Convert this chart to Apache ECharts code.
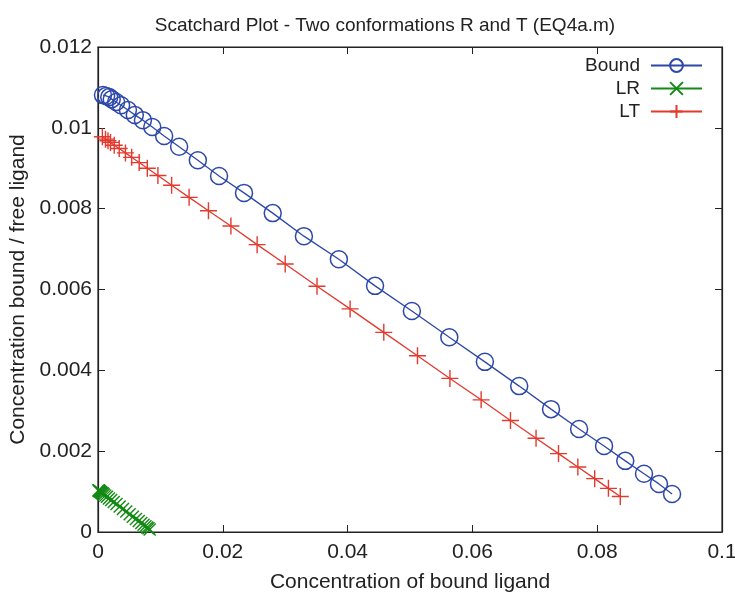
<!DOCTYPE html>
<html>
<head>
<meta charset="UTF-8">
<title>Scatchard Plot</title>
<style type="text/css">
    html,body{padding:0; margin:0; background:#fff;}
    #main{width:735px; height:593px;}
</style>
<script src="https://cdn.jsdelivr.net/npm/echarts@6/dist/echarts.min.js"></script>
</head>
<body>
<div id="main"></div>
<script type="text/javascript">
    // values
    var boundX = [0.0008, 0.0013, 0.0018, 0.0022, 0.0029, 0.0037, 0.0048, 0.0059, 0.0072, 0.0087,
                  0.0106, 0.0130, 0.0160, 0.0194, 0.0234, 0.0280, 0.0330, 0.0386, 0.0444, 0.0503,
                  0.0563, 0.0620, 0.0675, 0.0726, 0.0771, 0.0811, 0.0845, 0.0875, 0.0899, 0.0920];
    var boundY = [0.01081, 0.01079, 0.01076, 0.01071, 0.01064, 0.01056, 0.01044, 0.01032, 0.01019, 0.01002,
                  0.00980, 0.00953, 0.00920, 0.00881, 0.00839, 0.00789, 0.00732, 0.00675, 0.00609, 0.00547,
                  0.00482, 0.00421, 0.00361, 0.00304, 0.00255, 0.00213, 0.00176, 0.00144, 0.00119, 0.00094];

    var lrX = [0.00007, 0.00012, 0.00016, 0.00020, 0.00026, 0.00033, 0.00043, 0.00053, 0.00065, 0.00078,
               0.00095, 0.00117, 0.00144, 0.00175, 0.00211, 0.00252, 0.00297, 0.00347, 0.00400, 0.00453,
               0.00507, 0.00558, 0.00608, 0.00653, 0.00694, 0.00730, 0.00761, 0.00788, 0.00809, 0.00828];
    var lrY = [0.00103, 0.00103, 0.00102, 0.00102, 0.00101, 0.00100, 0.00099, 0.00098, 0.00096, 0.00095,
               0.00093, 0.00090, 0.00087, 0.00083, 0.00079, 0.00074, 0.00069, 0.00063, 0.00057, 0.00051,
               0.00044, 0.00038, 0.00032, 0.00027, 0.00022, 0.00018, 0.00014, 0.00011, 0.00009, 0.00006];

    var ltX = [0.0007, 0.0012, 0.0016, 0.0020, 0.0026, 0.0034, 0.0044, 0.0054, 0.0066, 0.0079,
               0.0096, 0.0118, 0.0146, 0.0177, 0.0213, 0.0255, 0.0300, 0.0351, 0.0404, 0.0458,
               0.0512, 0.0564, 0.0614, 0.0661, 0.0702, 0.0738, 0.0769, 0.0796, 0.0818, 0.0837];
    var ltY = [0.00978, 0.00972, 0.00968, 0.00964, 0.00957, 0.00949, 0.00938, 0.00927, 0.00914, 0.00900,
               0.00882, 0.00858, 0.00828, 0.00795, 0.00757, 0.00711, 0.00663, 0.00608, 0.00552, 0.00494,
               0.00436, 0.00380, 0.00327, 0.00276, 0.00232, 0.00194, 0.00161, 0.00132, 0.00108, 0.00088];

    var xTicks = ['0', '0.02', '0.04', '0.06', '0.08', '0.1'];
    var yTicks = ['0', '0.002', '0.004', '0.006', '0.008', '0.01', '0.012'];

    function pairs(xs, ys) {
        var out = [];
        for (var i = 0; i < xs.length; i++) out.push([xs[i], ys[i]]);
        return out;
    }

    var font = 'Liberation Sans, Arial, sans-serif';
    var blue = '#2d48a8', green = '#138a13', red = '#e23a2e';
    var tick = {show: true, inside: true, length: 7, lineStyle: {color: '#222', width: 1}};
    var frameLine = {show: true, onZero: false, lineStyle: {color: '#222', width: 1.2}};

    var myChart = echarts.init(document.getElementById('main'));
    var option = {
        animation: false,
        backgroundColor: '#fff',
        title: {
            text: 'Scatchard Plot - Two conformations R and T (EQ4a.m)',
            left: 380, top: 11, textAlign: 'center',
            textStyle: {fontFamily: font, fontSize: 19, fontWeight: 'normal', color: '#222'}
        },
        legend: {
            right: 27, top: 51, orient: 'vertical', align: 'right',
            itemWidth: 51, itemHeight: 16, itemGap: 4,
            textStyle: {fontFamily: font, fontSize: 19, lineHeight: 16, color: '#222', padding: [0, 6, 0, 0]},
            data: ['Bound', 'LR', 'LT']
        },
        grid: {
            left: 98, right: 13, top: 47, bottom: 61,
            outerBoundsMode: 'none', containLabel: false,
            show: true, borderColor: '#222', borderWidth: 1.2
        },
        xAxis: [{
            type: 'value', min: 0, max: 0.1, interval: 0.02,
            name: 'Concentration of bound ligand', nameLocation: 'middle', nameGap: 40,
            nameTextStyle: {fontFamily: font, fontSize: 21, color: '#222'},
            axisLine: frameLine,
            axisTick: tick,
            axisLabel: {margin: 10, fontFamily: font, fontSize: 21, color: '#222',
                formatter: function (v) { return xTicks[Math.round(v / 0.02)]; }},
            splitLine: {show: false}
        }, {
            type: 'value', min: 0, max: 0.1, interval: 0.02, position: 'top',
            axisLine: frameLine,
            axisTick: tick,
            axisLabel: {show: false}, splitLine: {show: false}
        }],
        yAxis: [{
            type: 'value', min: 0, max: 0.012, interval: 0.002,
            name: 'Concentration bound / free ligand', nameLocation: 'middle', nameGap: 69,
            nameTextStyle: {fontFamily: font, fontSize: 21, color: '#222'},
            axisLine: frameLine,
            axisTick: tick,
            axisLabel: {margin: 6, fontFamily: font, fontSize: 21, color: '#222',
                formatter: function (v) { return yTicks[Math.round(v / 0.002)]; }},
            splitLine: {show: false}
        }, {
            type: 'value', min: 0, max: 0.012, interval: 0.002, position: 'right',
            axisLine: frameLine,
            axisTick: tick,
            axisLabel: {show: false}, splitLine: {show: false}
        }],
        series: [{
            name: 'Bound', type: 'line', data: pairs(boundX, boundY),
            symbol: 'circle', symbolSize: 17,
            itemStyle: {color: 'rgba(0,0,0,0)', borderColor: blue, borderWidth: 1.5},
            lineStyle: {color: blue, width: 1.3}
        }, {
            name: 'LR', type: 'line', data: pairs(lrX, lrY),
            symbol: 'path://M0,0L10,10M0,10L10,0', symbolSize: 12,
            itemStyle: {color: green, borderColor: green, borderWidth: 1.4},
            lineStyle: {color: green, width: 1.3}
        }, {
            name: 'LT', type: 'line', data: pairs(ltX, ltY),
            symbol: 'path://M0,5L10,5M5,0L5,10', symbolSize: 17,
            itemStyle: {color: red, borderColor: red, borderWidth: 1.4},
            lineStyle: {color: red, width: 1.3}
        }]
    };
    myChart.setOption(option);
</script>
</body>
</html>
